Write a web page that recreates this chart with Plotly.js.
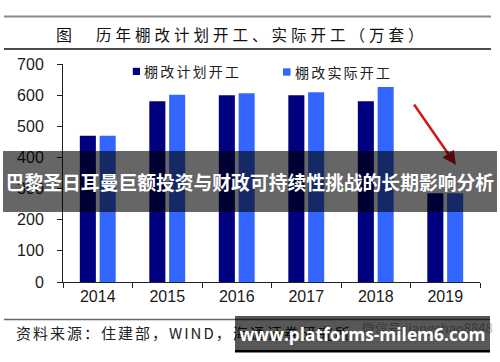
<!DOCTYPE html>
<html>
<head>
<meta charset="utf-8">
<script src="https://cdn.plot.ly/plotly-3.0.1.min.js"></script>
<style>
  html, body { margin: 0; padding: 0; background: #fff; }
  #chart { width: 500px; height: 362px; }
  g.annotation[data-index="2"] text { letter-spacing: 4px; }
  g.annotation[data-index="3"] text { letter-spacing: 2.2px; }
  g.annotation[data-index="4"] text { letter-spacing: 2.2px; }
  g.annotation[data-index="6"] text { letter-spacing: 2px; }
</style>
</head>
<body>
<div id="chart"></div>
<script>
// ---- data ----
var years = ['2014', '2015', '2016', '2017', '2018', '2019'];
var planStarts = [470, 580, 600, 600, 580, 285];
var actualStarts = [470, 601, 606, 609, 626, 285];
var seriesNames = ['棚改计划开工', '棚改实际开工'];
var yTicks = [0, 100, 200, 300, 400, 500, 600, 700];

var chartTitleLabel = '图';
var chartTitle = '历年棚改计划开工、实际开工（万套）';
var sourceNote = '资料来源：住建部，WIND，海通证券研究所';
var wechatNote = '微信号:jiangchao8848';
var bannerText = '巴黎圣日耳曼巨额投资与财政可持续性挑战的长期影响分析';
var siteText = 'www.platforms-milem6.com';

// ---- layout helpers (pixel -> paper) ----
var L = 63, T = 64, W = 417, H = 218;
function px(x) { return (x - L) / W; }
function py(y) { return (T + H - y) / H; }

var navy = '#000080';
var blue = '#3366ff';
var cjk = '"Noto Sans CJK SC", "Noto Sans", sans-serif';
var latin = '"Liberation Sans", Arial, sans-serif';

var traces = [
  { type: 'bar', name: seriesNames[0], x: years, y: planStarts,
    marker: { color: navy }, hoverinfo: 'x+y' },
  { type: 'bar', name: seriesNames[1], x: years, y: actualStarts,
    marker: { color: blue }, hoverinfo: 'x+y' }
];

var layout = {
  width: 500, height: 362,
  margin: { l: L, r: 500 - L - W, t: T, b: 362 - T - H, pad: 0 },
  paper_bgcolor: '#ffffff', plot_bgcolor: '#ffffff',
  showlegend: false,
  barmode: 'group', bargap: 0.43, bargroupgap: 0.19,
  font: { family: latin, color: '#1a1a1a' },
  xaxis: {
    type: 'category', showline: true, linecolor: '#222', linewidth: 1,
    ticks: 'outside', ticklen: 5, tickcolor: '#222', tickson: 'boundaries',
    showgrid: false, zeroline: false, fixedrange: true,
    tickfont: { family: latin, size: 16, color: '#1a1a1a' }
  },
  yaxis: {
    range: [0, 700], tickvals: yTicks, showline: true, linecolor: '#222', linewidth: 1,
    ticks: 'outside', ticklen: 5, tickcolor: '#222',
    showgrid: false, zeroline: false, fixedrange: true,
    tickfont: { family: latin, size: 16, color: '#1a1a1a' },
    ticklabelstandoff: 10
  },
  shapes: [
    { type: 'line', xref: 'paper', yref: 'paper', x0: px(4), x1: px(491), y0: py(16.5), y1: py(16.5),
      line: { color: '#8a8a8a', width: 2 } },
    { type: 'line', xref: 'paper', yref: 'paper', x0: px(4), x1: px(491), y0: py(49), y1: py(49),
      line: { color: '#111', width: 1.5 } },
    { type: 'line', xref: 'paper', yref: 'paper', x0: px(4), x1: px(490), y0: py(319.5), y1: py(319.5),
      line: { color: '#666', width: 1.5 } },
    { type: 'rect', xref: 'paper', yref: 'paper', x0: px(132.8), x1: px(140), y0: py(75), y1: py(67.8),
      fillcolor: navy, line: { width: 0 } },
    { type: 'rect', xref: 'paper', yref: 'paper', x0: px(283), x1: px(290.5), y0: py(75.7), y1: py(68.3),
      fillcolor: blue, line: { width: 0 } },
    { type: 'line', xref: 'paper', yref: 'paper', x0: px(235), x1: px(490), y0: py(351.3), y1: py(351.3),
      line: { color: '#000', width: 2.5 } }
  ],
  annotations: [
    // 0 red arrow
    { xref: 'paper', yref: 'paper', x: px(456), y: py(165), ax: -43, ay: -62,
      showarrow: true, arrowhead: 2, arrowsize: 1.1, arrowwidth: 2.5, arrowcolor: '#d01818', text: '' },
    // 1 title label
    { xref: 'paper', yref: 'paper', x: px(63.5), y: py(34), xanchor: 'center', yanchor: 'middle',
      showarrow: false, text: chartTitleLabel, font: { family: cjk, size: 16, color: '#111' } },
    // 2 title
    { xref: 'paper', yref: 'paper', x: px(94), y: py(34), xanchor: 'left', yanchor: 'middle', align: 'left',
      showarrow: false, text: chartTitle, font: { family: cjk, size: 15.5, color: '#111' } },
    // 3 legend text 1
    { xref: 'paper', yref: 'paper', x: px(142), y: py(71.5), xanchor: 'left', yanchor: 'middle', align: 'left',
      showarrow: false, text: seriesNames[0], font: { family: cjk, size: 14, color: '#222' } },
    // 4 legend text 2
    { xref: 'paper', yref: 'paper', x: px(292.5), y: py(72), xanchor: 'left', yanchor: 'middle', align: 'left',
      showarrow: false, text: seriesNames[1], font: { family: cjk, size: 14, color: '#222' } },
    // 5 banner
    { xref: 'paper', yref: 'paper', x: px(250), y: py(181.5), xanchor: 'center', yanchor: 'middle',
      showarrow: false, text: bannerText, width: 494, height: 61, borderpad: 0, borderwidth: 0,
      bgcolor: 'rgba(0,0,0,0.6)',
      font: { family: cjk, size: 18.8, color: '#ffffff', weight: 'bold' } },
    // 6 source note
    { xref: 'paper', yref: 'paper', x: px(14), y: py(332), xanchor: 'left', yanchor: 'middle', align: 'left',
      showarrow: false, text: sourceNote, font: { family: cjk, size: 15, color: '#222' } },
    // 7 wechat note
    { xref: 'paper', yref: 'paper', x: px(360), y: py(327), xanchor: 'left', yanchor: 'middle', align: 'left',
      showarrow: false, text: wechatNote, font: { family: cjk, size: 13, color: '#aaaaaa' } },
    // 8 site watermark box
    { xref: 'paper', yref: 'paper', x: px(362.5), y: py(334), xanchor: 'center', yanchor: 'middle',
      showarrow: false, text: siteText, width: 255, height: 36, borderpad: 0, borderwidth: 0,
      bgcolor: 'rgba(0,0,0,0.66)',
      font: { family: '"Open Sans", "Noto Sans", sans-serif', size: 17.3, color: '#ffffff', weight: 'bold' } }
  ]
};

Plotly.newPlot('chart', traces, layout, { displayModeBar: false, staticPlot: true });
</script>
</body>
</html>
